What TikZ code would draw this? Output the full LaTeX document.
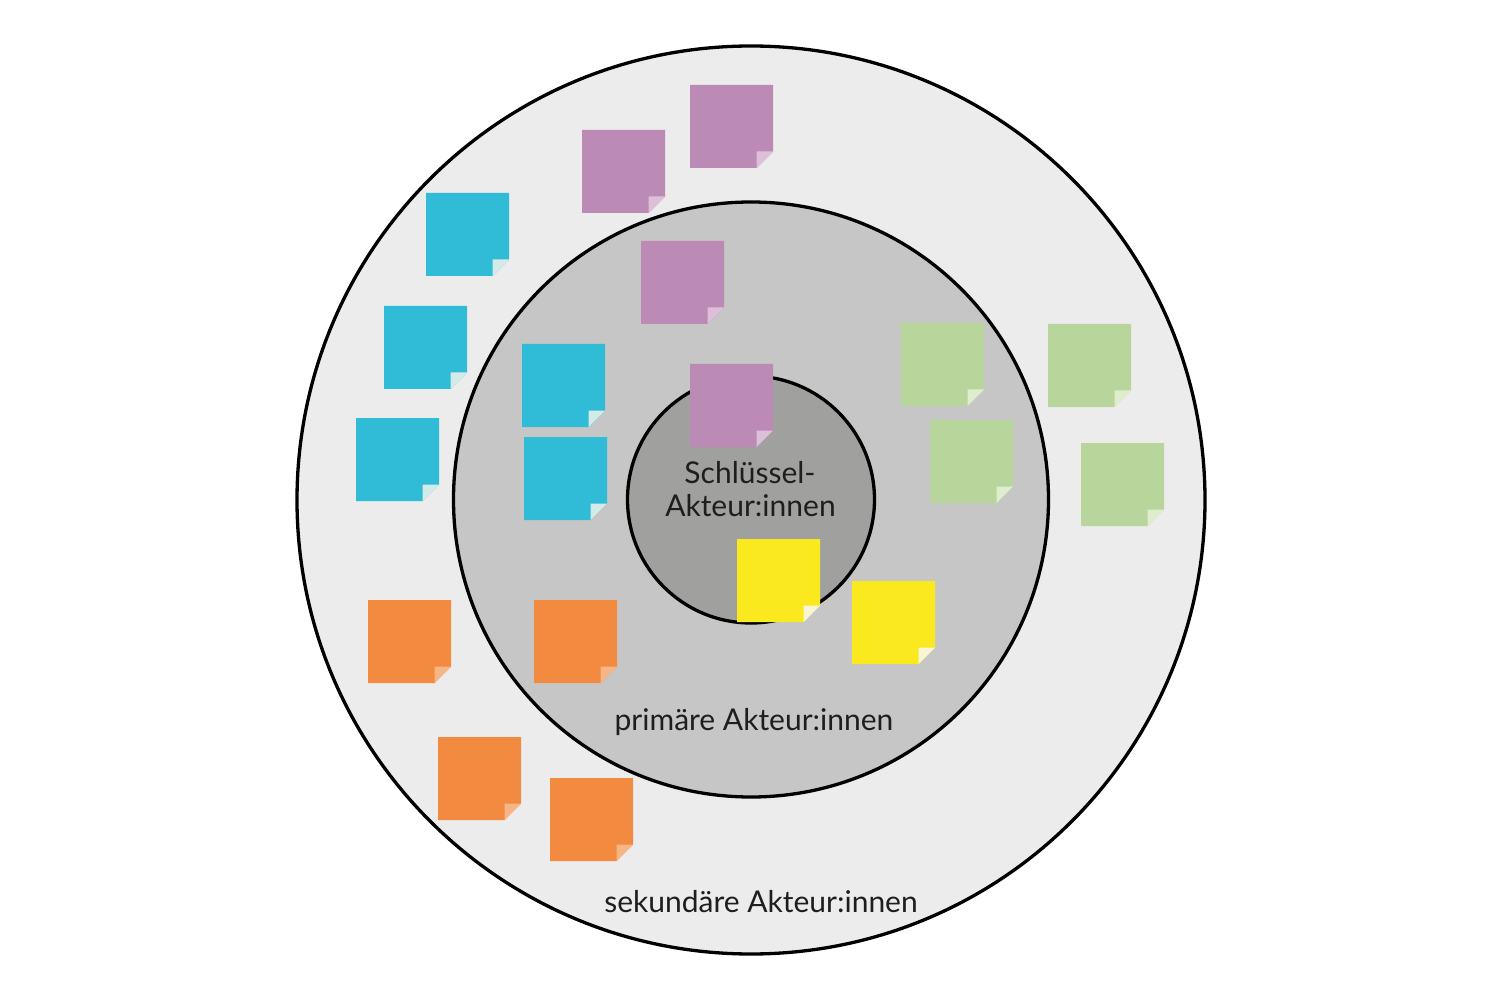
\documentclass[tikz,border=0pt]{standalone}
\usepackage{fontspec}
\setmainfont{Lato}
\definecolor{outerc}{HTML}{ECECEC}
\definecolor{midc}{HTML}{C6C6C6}
\definecolor{innerc}{HTML}{A0A09F}
\definecolor{purp}{HTML}{BB8AB5}
\definecolor{purpfold}{HTML}{DDBFD9}
\definecolor{blu}{HTML}{30BCD7}
\definecolor{blufold}{HTML}{D2EBE8}
\definecolor{grn}{HTML}{B8D69B}
\definecolor{grnfold}{HTML}{DFEDCF}
\definecolor{yel}{HTML}{F9E91E}
\definecolor{yelfold}{HTML}{F7F5D3}
\definecolor{orn}{HTML}{F28A3F}
\definecolor{ornfold}{HTML}{F6B587}
\definecolor{txt}{HTML}{1E1E1E}
\newcommand\stickynote[3]{%
  \fill[#3] (#1,#2) -- ++(83,0) -- ++(0,66.5) -- ++(-16.5,16.5) -- ++(-66.5,0) -- cycle;
  \fill[#3fold] ({#1+66.5},{#2+66.5}) -- ++(16.5,0) -- ++(-16.5,16.5) -- cycle;}
\begin{document}
\begin{tikzpicture}[x=1pt,y=-1pt,
  ring/.style={draw=black,line width=3.3pt},
  lbl/.style={text=txt,font=\fontsize{30}{34}\selectfont,align=center,inner sep=0pt,anchor=base}]
\useasboundingbox (0,0) rectangle (1500,1000);
\fill[white] (0,0) rectangle (1500,1000);
\draw[ring,fill=outerc] (751,500) circle (454);
\draw[ring,fill=midc] (751,499.5) circle (297.5);
\draw[ring,fill=innerc] (751,499.5) circle (123.5);
% purple
\stickynote{690}{85}{purp}
\stickynote{582}{130}{purp}
\stickynote{641}{241}{purp}
\stickynote{690}{364}{purp}
% blue
\stickynote{426}{193}{blu}
\stickynote{384}{306}{blu}
\stickynote{356}{418}{blu}
\stickynote{522}{344}{blu}
\stickynote{524}{437}{blu}
% green
\stickynote{901}{323}{grn}
\stickynote{1048}{324}{grn}
\stickynote{930}{420}{grn}
\stickynote{1081}{443}{grn}
% yellow
\stickynote{737}{539}{yel}
\stickynote{852}{581}{yel}
% orange
\stickynote{368}{600}{orn}
\stickynote{534}{600}{orn}
\stickynote{438}{737}{orn}
\stickynote{550}{778}{orn}
% labels
\node[lbl] (key1) at (750,483) {Schlüssel-};
\node[lbl] (key2) at (750.5,516) {Akteur:innen};
\node[lbl] (prim) at (754,730) {primäre Akteur:innen};
\node[lbl] (sek) at (761,912) {sekundäre Akteur:innen};
\end{tikzpicture}
\end{document}
